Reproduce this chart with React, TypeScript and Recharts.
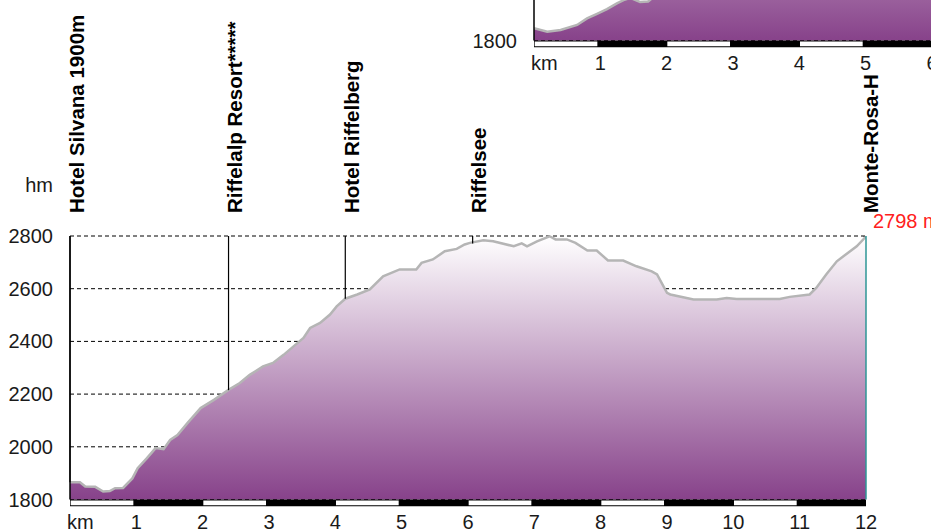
import React from 'react';
import {
  AreaChart,
  Area,
  XAxis,
  YAxis,
  CartesianGrid,
  ReferenceLine,
  ReferenceArea,
  ReferenceDot,
} from 'recharts';

// ---- main profile (distance km, elevation m)
const profileKm = [
  0, 0.15, 0.23, 0.38, 0.5, 0.6, 0.68, 0.8, 0.94, 1.02, 1.16, 1.29, 1.41, 1.51, 1.62, 1.77, 1.97,
  2.17, 2.39, 2.56, 2.71, 2.91, 3.06, 3.22, 3.37, 3.52, 3.62, 3.77, 3.92, 4.02, 4.15, 4.33, 4.52,
  4.72, 4.97, 5.22, 5.3, 5.47, 5.65, 5.83, 5.95, 6.03, 6.23, 6.38, 6.69, 6.81, 6.89, 7.04, 7.23,
  7.32, 7.49, 7.62, 7.8, 7.94, 8.11, 8.34, 8.54, 8.77, 8.85, 9.0, 9.05, 9.4, 9.75, 9.9, 10.05,
  10.7, 10.85, 11.15, 11.25, 11.4, 11.56, 11.66, 11.86, 12.0,
];
const profileElev = [
  1865, 1865, 1849, 1848, 1830, 1832, 1843, 1844, 1880, 1919, 1957, 1995, 1991, 2026, 2045, 2090, 2147,
  2178, 2216, 2242, 2273, 2305, 2318, 2349, 2381, 2413, 2451, 2470, 2502, 2533, 2562, 2578, 2597,
  2647, 2673, 2673, 2698, 2711, 2742, 2751, 2768, 2774, 2784, 2780, 2761, 2772, 2761, 2780, 2799,
  2787, 2787, 2774, 2745, 2745, 2707, 2707, 2685, 2666, 2654, 2584, 2578, 2559, 2559, 2565, 2561,
  2561, 2569, 2578, 2603, 2654, 2704, 2723, 2761, 2798,
];

// ---- overview profile peeking in at the top right
const insetKm = [0, 0.2, 0.4, 0.65, 0.8, 0.95, 1.1, 1.25, 1.35, 1.45, 1.6, 1.72, 1.85, 2.2, 3, 4, 5, 6, 7, 8];
const insetElev = [1847, 1833, 1840, 1859, 1884, 1901, 1919, 1941, 1953, 1962, 1946, 1948, 1975, 2040, 2150, 2300, 2450, 2550, 2650, 2800];

// ---- axes
const yTicks = [1800, 2000, 2200, 2400, 2600, 2800];
const xTicks = [0, 1, 2, 3, 4, 5, 6, 7, 8, 9, 10, 11, 12];
const xTickLabels = ['km', '1', '2', '3', '4', '5', '6', '7', '8', '9', '10', '11', '12'];
const scaleSegments = [0, 1, 2, 3, 4, 5, 6, 7, 8, 9, 10, 11];

// ---- waypoints
const waypointNames = ['Hotel Silvana 1900m', 'Riffelalp Resort*****', 'Hotel Riffelberg', 'Riffelsee', 'Monte-Rosa-Hütte'];
const waypointKm = [0, 2.39, 4.15, 6.07, 11.97];
const waypointElev = [1865, 2215, 2562, 2772, 2798];
const endLabel = '2798 m';
const endKm = 12;
const endElev = 2798;

const FONT = "Arial, 'Liberation Sans', sans-serif";

const mainData = profileKm.map((km, i) => ({ km, elev: profileElev[i] }));
const insetData = insetKm.map((km, i) => ({ km, elev: insetElev[i] }));

const YTick = (props: any) => {
  const { x, y, payload } = props;
  return (
    <text x={x - 17} y={y} textAnchor="end" dominantBaseline="central" fontSize={20} fill="#1a1a1a" fontFamily={FONT}>
      {payload.value}
    </text>
  );
};

const XTick = (props: any) => {
  const { x, y, payload } = props;
  const idx = xTicks.indexOf(payload.value);
  const isKm = payload.value === 0;
  return (
    <text
      x={isKm ? x - 3 : x}
      y={y + 22}
      textAnchor={isKm ? 'start' : 'middle'}
      dominantBaseline="central"
      fontSize={20}
      fill="#1a1a1a"
      fontFamily={FONT}
    >
      {xTickLabels[idx]}
    </text>
  );
};

function ProfileChart({ data, id, main }: { data: any[]; id: string; main: boolean }) {
  return (
    <AreaChart width={931} height={529} data={data} margin={{ top: 236, right: 65, bottom: 0, left: 0 }}>
      <defs>
        <linearGradient id={id} x1="0" y1="0" x2="0" y2="1">
          <stop offset="0%" stopColor="#ffffff" />
          <stop offset="100%" stopColor="#87428a" />
        </linearGradient>
      </defs>
      <CartesianGrid horizontal vertical={false} stroke="#000" strokeDasharray="4 3" />
      <XAxis
        dataKey="km"
        type="number"
        domain={[0, 12]}
        ticks={xTicks}
        interval={0}
        height={29.5}
        tickLine={false}
        axisLine={false}
        tickSize={0}
        tickMargin={0}
        tick={<XTick />}
        allowDataOverflow
      />
      <YAxis
        type="number"
        domain={[1800, 2800]}
        ticks={yTicks}
        interval={0}
        width={70}
        tickLine={false}
        tickSize={0}
        tickMargin={0}
        axisLine={{ stroke: '#000', strokeWidth: 1.5 }}
        tick={<YTick />}
        label={
          main
            ? (p: any) => (
                <text
                  x={53}
                  y={(p.viewBox?.y ?? 236) - 51}
                  textAnchor="end"
                  dominantBaseline="central"
                  fontSize={20}
                  fill="#1a1a1a"
                  fontFamily={FONT}
                >
                  hm
                </text>
              )
            : undefined
        }
      />
      <Area
        type="linear"
        dataKey="elev"
        stroke="#b5b5b5"
        strokeWidth={2.5}
        fill={`url(#${id})`}
        fillOpacity={1}
        isAnimationActive={false}
        dot={false}
        activeDot={false}
      />
      {main && <ReferenceLine x={12} stroke="#2e9696" strokeWidth={1.5} />}
      {/* distance scale bar */}
      <ReferenceArea x1={0} x2={12} y1={1774} y2={1800} fill="#000" fillOpacity={1} stroke="none" ifOverflow="visible" />
      {scaleSegments
        .filter((k) => k % 2 === 0)
        .map((k) => (
          <ReferenceArea
            key={`w${k}`}
            x1={k + 0.01}
            x2={k + 0.955}
            y1={1778}
            y2={1796}
            fill="#fff"
            fillOpacity={1}
            stroke="none"
            ifOverflow="visible"
          />
        ))}
      {main &&
        waypointKm.map((km, i) => (
          <ReferenceLine
            key={`m${i}`}
            segment={[
              { x: km, y: 2800 },
              { x: km, y: waypointElev[i] },
            ]}
            stroke="#000"
            strokeWidth={1.2}
            ifOverflow="visible"
          />
        ))}
      {main &&
        waypointKm.map((km, i) => (
          <ReferenceDot
            key={`l${i}`}
            x={km}
            y={2800}
            r={0}
            ifOverflow="visible"
            shape={(p: any) => (
              <text
                x={p.cx + 13.5}
                y={p.cy - 23}
                transform={`rotate(-90, ${p.cx + 13.5}, ${p.cy - 23})`}
                textAnchor="start"
                fontSize={20.5}
                fontWeight="bold"
                fill="#000"
                fontFamily={FONT}
              >
                {waypointNames[i]}
              </text>
            )}
          />
        ))}
      {main && (
        <ReferenceDot
          x={endKm}
          y={endElev}
          r={0}
          ifOverflow="visible"
          shape={(p: any) => (
            <text x={p.cx + 7} y={p.cy - 8.5} fontSize={20} fill="#ff2020" fontFamily={FONT}>
              {endLabel}
            </text>
          )}
        />
      )}
    </AreaChart>
  );
}

export default function App() {
  return (
    <div
      style={{
        position: 'absolute',
        left: 0,
        top: 0,
        width: 931,
        height: 529,
        overflow: 'hidden',
        background: '#fff',
        fontFamily: FONT,
      }}
    >
      <ProfileChart data={mainData} id="fillMain" main />
      <div
        style={{
          position: 'absolute',
          left: 466,
          top: 0,
          width: 465,
          height: 74,
          overflow: 'hidden',
          background: '#fff',
        }}
      >
        <div style={{ position: 'absolute', left: -2.5, top: -459 }}>
          <ProfileChart data={insetData} id="fillInset" main={false} />
        </div>
      </div>
    </div>
  );
}
